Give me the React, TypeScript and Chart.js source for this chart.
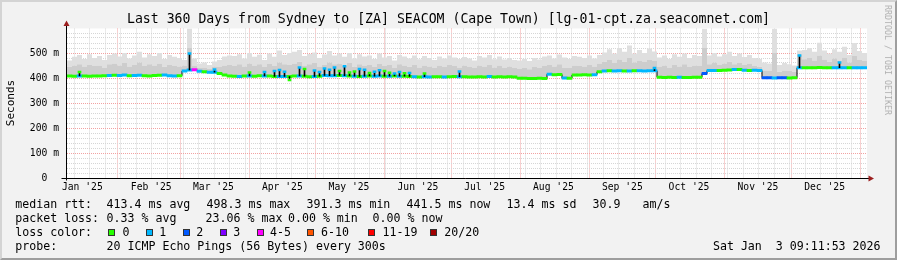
import React, { useEffect, useRef } from 'react';
import { Chart, registerables } from 'chart.js';

Chart.register(...registerables);

const FONT = "'DejaVu Sans Mono', 'Liberation Mono', monospace";

// time axis in days since 2025-01-01
const START_DAY = 8.1;
const END_DAY = 368.1;
const STEP_DAYS = 2.25;

// median round trip time (ms), one value per 2.25-day interval
const medianRtt = [
  408, 407, 408, 408, 407, 408, 408, 409, 410, 411,
  410, 412, 409, 410, 411, 409, 408, 410, 411, 412,
  409, 408, 409, 428, 432, 433, 427, 425, 423, 423,
  418, 412, 408, 407, 406, 408, 408, 407, 409, 408,
  408, 406, 406, 406, 406, 408, 408, 407, 405, 406,
  407, 410, 409, 409, 410, 409, 408, 407, 406, 407,
  408, 407, 408, 407, 407, 408, 407, 407, 406, 405,
  404, 405, 404, 405, 405, 404, 405, 406, 405, 405,
  404, 404, 405, 404, 406, 404, 405, 404, 405, 404,
  399, 399, 398, 398, 399, 398, 415, 413, 414, 400,
  399, 412, 412, 413, 412, 413, 425, 428, 429, 428,
  429, 428, 428, 429, 429, 428, 429, 429, 403, 402,
  403, 402, 403, 402, 402, 403, 403, 418, 430, 430,
  430, 431, 432, 434, 434, 431, 430, 431, 430, 401,
  401, 400, 401, 401, 400, 401, 441, 441, 441, 441,
  442, 441, 441, 441, 441, 441, 441, 441, 441, 441,
];

// loss colour index per interval (0 = no loss, 1 = 1/20, 2 = 2/20, 4 = 4-5/20)
const lossLevel = [
  0, 0, 1, 0, 0, 0, 0, 0, 1, 0,
  1, 1, 0, 1, 1, 0, 0, 0, 0, 1,
  1, 1, 0, 1, 1, 4, 1, 0, 1, 1,
  0, 0, 0, 0, 1, 0, 1, 0, 0, 1,
  0, 0, 1, 1, 0, 0, 1, 0, 0, 1,
  0, 1, 1, 1, 0, 1, 0, 1, 0, 1,
  0, 1, 1, 0, 1, 0, 1, 0, 0, 1,
  0, 1, 1, 0, 0, 1, 0, 0, 1, 0,
  0, 0, 0, 0, 1, 0, 0, 0, 0, 0,
  0, 0, 0, 0, 0, 0, 1, 0, 0, 1,
  0, 0, 0, 0, 0, 1, 0, 1, 0, 1,
  1, 0, 1, 0, 1, 1, 1, 1, 0, 0,
  0, 0, 1, 0, 0, 0, 0, 2, 1, 1,
  0, 0, 0, 1, 0, 1, 0, 1, 1, 2,
  2, 1, 2, 2, 0, 0, 1, 0, 0, 0,
  0, 0, 0, 1, 1, 1, 0, 1, 1, 1,
];

// short-lived median excursions inside an interval: interval index, peak rtt (ms), loss colour index
const spikeBin = [2, 24, 29, 36, 39, 41, 42, 43, 44, 46, 47, 49, 50, 51, 52, 53, 54, 55, 56, 57, 58, 59, 60, 61, 62, 63, 64, 65, 66, 67, 68, 71, 78, 117, 146, 154];
const spikeRtt = [424, 498, 434, 422, 424, 428, 432, 425, 392, 442, 436, 430, 424, 438, 433, 442, 428, 447, 422, 426, 436, 433, 420, 425, 431, 428, 421, 418, 424, 419, 420, 418, 426, 440, 490, 462];
const spikeLoss = [0, 1, 1, 0, 1, 1, 1, 1, 0, 1, 0, 1, 1, 1, 1, 1, 0, 1, 0, 0, 1, 1, 0, 1, 1, 0, 0, 1, 1, 0, 1, 0, 1, 1, 1, 1];

// inner (denser) smoke upper edge, ms
const smokeMid = [
  445, 450, 455, 446, 452, 448, 450, 440, 455, 458,
  450, 460, 446, 452, 462, 448, 455, 450, 458, 445,
  452, 448, 446, 450, 520, 450, 440, 442, 436, 446,
  444, 450, 452, 448, 455, 446, 458, 450, 455, 444,
  456, 448, 462, 455, 452, 458, 465, 450, 455, 460,
  446, 452, 462, 455, 458, 448, 460, 445, 455, 450,
  452, 444, 456, 448, 452, 440, 455, 450, 445, 452,
  442, 450, 446, 440, 450, 444, 452, 448, 442, 450,
  444, 440, 450, 446, 452, 442, 450, 440, 446, 440,
  436, 440, 435, 444, 440, 448, 452, 446, 455, 440,
  440, 450, 448, 446, 452, 446, 458, 465, 472, 460,
  474, 465, 480, 462, 470, 464, 472, 468, 446, 450,
  440, 452, 446, 455, 444, 450, 448, 520, 455, 462,
  452, 458, 465, 455, 460, 452, 458, 448, 445, 430,
  428, 500, 425, 430, 428, 425, 495, 475, 480, 470,
  490, 474, 465, 478, 470, 482, 462, 488, 472, 468,
];

// outer smoke upper edge (max ping), ms
const smokeTop = [
  470, 485, 492, 476, 495, 480, 488, 472, 492, 498,
  486, 500, 478, 490, 505, 482, 495, 488, 500, 476,
  492, 485, 480, 472, 600, 478, 458, 462, 452, 466,
  472, 486, 490, 488, 495, 478, 500, 485, 493, 472,
  498, 485, 510, 492, 500, 505, 512, 488, 496, 502,
  480, 494, 508, 490, 498, 485, 500, 478, 495, 486,
  490, 476, 498, 482, 488, 470, 492, 486, 478, 490,
  475, 488, 480, 472, 486, 478, 490, 482, 476, 484,
  478, 470, 488, 482, 492, 475, 486, 474, 480, 472,
  470, 476, 468, 480, 474, 486, 490, 478, 494, 482,
  476, 488, 485, 480, 490, 478, 492, 502, 515, 498,
  520, 505, 530, 498, 512, 500, 518, 506, 482, 490,
  476, 495, 485, 498, 480, 492, 488, 598, 490, 500,
  486, 495, 505, 488, 498, 484, 492, 480, 476, 462,
  458, 598, 452, 460, 455, 450, 510, 512, 520, 505,
  541, 510, 498, 515, 505, 525, 492, 540, 508, 500,
];

const monthStarts = [31, 59, 90, 120, 151, 181, 212, 243, 273, 304, 334, 365];
const monthLabelDays = [15, 46, 74, 105, 135, 166, 196, 227, 258, 288, 319, 349];
const monthLabels = ["Jan '25", "Feb '25", "Mar '25", "Apr '25", "May '25", "Jun '25", "Jul '25", "Aug '25", "Sep '25", "Oct '25", "Nov '25", "Dec '25"];
const yTicks = [0, 100, 200, 300, 400, 500];
const yTickLabels = ['0  ', '100 m', '200 m', '300 m', '400 m', '500 m'];

const lossColors = ['#26ff00', '#00b8ff', '#0059ff', '#7e00ff', '#ff00ff', '#ff5500', '#ff0000', '#a10000'];
const lossNames = ['0', '1', '2', '3', '4-5', '6-10', '11-19', '20/20'];

const rttStats = ['median rtt:', '413.4 ms avg', '498.3 ms max', '391.3 ms min', '441.5 ms now', '13.4 ms sd', '30.9', 'am/s'];
const lossStats = ['packet loss:', '0.33 % avg', '23.06 % max', '0.00 % min', '0.00 % now'];
const probeText = ['probe:', '20 ICMP Echo Pings (56 Bytes) every 300s'];
const stampText = 'Sat Jan  3 09:11:53 2026';
const titleText = 'Last 360 Days from Sydney to [ZA] SEACOM (Cape Town) [lg-01-cpt.za.seacomnet.com]';

// layout (pixel positions of legend items)
const rttX = [15.3, 106.6, 206.6, 306.6, 406.6, 506.6, 592.6, 642.6];
const lossX = [15.3, 106.6, 205.6, 288, 372.6];
const probeX = [15.3, 106.6];
const swatchX = [108, 145.5, 182.5, 219.5, 256.5, 306.5, 368, 430];
const swatchLabelX = [122.6, 159.3, 196.3, 233.3, 270, 321, 382.6, 444.3];

const GRID_RED = '#f2a2a2';
const GRID_GRAY = '#d6d6d6';

export default function App() {
  const ref = useRef<HTMLCanvasElement>(null);

  useEffect(() => {
    document.body.style.margin = '0';
    const canvas = ref.current;
    if (!canvas) return;

    const binStart = (i: number) => START_DAY + i * STEP_DAYS;
    const binMid = (i: number) => START_DAY + (i + 0.5) * STEP_DAYS;
    const stepPts = (arr: number[]) => {
      const pts = arr.map((v, i) => ({ x: binStart(i), y: v }));
      pts.push({ x: END_DAY, y: arr[arr.length - 1] });
      return pts;
    };
    const bandPts = medianRtt.map((v, i) => ({ x: binMid(i), y: [v - 5, v + 5] }));
    const bandColors = lossLevel.map((l) => lossColors[l]);
    const spikeLinePts = spikeBin.map((b, k) => ({ x: binMid(b), y: [medianRtt[b], spikeRtt[k]] }));
    const spikeTipPts = spikeBin.map((b, k) => ({ x: binMid(b), y: [spikeRtt[k] - 4, spikeRtt[k] + 4] }));
    const spikeTipColors = spikeLoss.map((l) => lossColors[l]);

    const weekDays: number[] = [];
    for (let d = 4.3; d < END_DAY; d += 7) if (d > START_DAY) weekDays.push(d);
    const minorY: number[] = [];
    for (let v = 20; v < 600; v += 20) if (v % 100 !== 0) minorY.push(v);

    const bgPlugin = {
      id: 'bg',
      beforeDraw(chart: any) {
        const { ctx, chartArea: a } = chart;
        ctx.save();
        ctx.fillStyle = '#f2f2f2';
        ctx.fillRect(0, 0, chart.width, chart.height);
        ctx.fillStyle = '#ffffff';
        ctx.fillRect(a.left, a.top, a.right - a.left, a.bottom - a.top);
        ctx.restore();
      },
    };
    const axisPlugin = {
      id: 'axes',
      afterDraw(chart: any) {
        const { ctx, chartArea: a } = chart;
        const x0 = Math.round(a.left) - 0.5;
        const y0 = Math.round(a.bottom) + 0.5;
        ctx.save();
        ctx.strokeStyle = '#000';
        ctx.lineWidth = 1;
        ctx.beginPath();
        ctx.moveTo(x0, y0 + 2);
        ctx.lineTo(x0, 24);
        ctx.moveTo(x0 - 5, y0);
        ctx.lineTo(a.right + 3, y0);
        ctx.stroke();
        ctx.fillStyle = '#9c1f1f';
        ctx.beginPath();
        ctx.moveTo(x0, 20.5);
        ctx.lineTo(x0 + 3, 26);
        ctx.lineTo(x0 - 3, 26);
        ctx.closePath();
        ctx.fill();
        ctx.beginPath();
        ctx.moveTo(a.right + 7, y0);
        ctx.lineTo(a.right + 1.5, y0 - 3);
        ctx.lineTo(a.right + 1.5, y0 + 3);
        ctx.closePath();
        ctx.fill();
        ctx.restore();
      },
    };

    const hiddenX = (ticks: number[], color: string) => ({
      type: 'linear',
      position: 'bottom',
      min: START_DAY,
      max: END_DAY,
      offset: false,
      afterBuildTicks: (s: any) => {
        s.ticks = ticks.filter((v) => v > START_DAY && v < END_DAY).map((v) => ({ value: v }));
      },
      afterFit: (s: any) => {
        s.height = 0;
        s.paddingLeft = 0;
        s.paddingRight = 0;
      },
      grid: { color, drawTicks: false, lineWidth: 1, offset: false },
      border: { display: false, dash: [1, 1] },
      ticks: { display: false },
    });

    const noLine = { borderColor: 'rgba(0,0,0,0)', borderWidth: 0, pointRadius: 0 };

    const chart = new Chart(canvas, {
      type: 'line',
      data: {
        datasets: [
          { label: 'base', data: stepPts(medianRtt), stepped: 'before', ...noLine, fill: false, order: 6 },
          { label: 'smoke inner', data: stepPts(smokeMid), stepped: 'before', ...noLine, fill: '-1', backgroundColor: '#cdcdcd', order: 6 },
          { label: 'smoke outer', data: stepPts(smokeTop), stepped: 'before', ...noLine, fill: '-1', backgroundColor: '#dfdfdf', order: 6 },
          { label: 'median rtt', data: stepPts(medianRtt), stepped: 'before', borderColor: '#000000', borderWidth: 1, pointRadius: 0, fill: false, order: 4 },
          { type: 'bar', label: 'loss', data: bandPts as any, backgroundColor: bandColors, borderWidth: 0, barPercentage: 1, categoryPercentage: 1, grouped: false, order: 3 },
          { type: 'bar', label: 'spike', data: spikeLinePts as any, backgroundColor: '#000000', borderWidth: 0, barThickness: 1, grouped: false, order: 2 },
          { type: 'bar', label: 'spike loss', data: spikeTipPts as any, backgroundColor: spikeTipColors, borderWidth: 0, barThickness: 3, grouped: false, order: 1 },
        ] as any,
      },
      options: {
        animation: false,
        responsive: false,
        maintainAspectRatio: false,
        events: [],
        layout: { padding: { left: 0, right: 30, top: 28.5, bottom: 0 } },
        plugins: { legend: { display: false }, tooltip: { enabled: false }, title: { display: false } },
        scales: {
          x: {
            type: 'linear',
            position: 'bottom',
            min: START_DAY,
            max: END_DAY,
            offset: false,
            afterBuildTicks: (s: any) => {
              s.ticks = monthLabelDays.map((v) => ({ value: v }));
            },
            afterFit: (s: any) => {
              s.height = 82;
              s.paddingLeft = 0;
              s.paddingRight = 0;
            },
            grid: { display: false, drawTicks: false, offset: false },
            border: { display: false },
            ticks: {
              autoSkip: false,
              maxRotation: 0,
              minRotation: 0,
              padding: 4,
              color: '#000',
              font: { family: FONT, size: 9.7 },
              callback: (_v: any, i: number) => monthLabels[i],
            },
          },
          xMonth: hiddenX(monthStarts, GRID_RED),
          xWeek: hiddenX(weekDays, GRID_GRAY),
          y: {
            position: 'left',
            min: 0,
            max: 598,
            afterBuildTicks: (s: any) => {
              s.ticks = yTicks.map((v) => ({ value: v }));
            },
            afterFit: (s: any) => {
              s.width = 67;
              s.paddingTop = 0;
              s.paddingBottom = 0;
            },
            grid: { color: GRID_RED, drawTicks: false, lineWidth: 1 },
            border: { display: false, dash: [1, 1] },
            ticks: {
              padding: 8,
              color: '#000',
              font: { family: FONT, size: 9.7 },
              callback: (_v: any, i: number) => yTickLabels[i],
            },
          },
          y2: {
            position: 'left',
            min: 0,
            max: 598,
            afterBuildTicks: (s: any) => {
              s.ticks = minorY.map((v) => ({ value: v }));
            },
            afterFit: (s: any) => {
              s.width = 0;
              s.paddingTop = 0;
              s.paddingBottom = 0;
            },
            grid: { color: GRID_GRAY, drawTicks: false, lineWidth: 1 },
            border: { display: false, dash: [1, 1] },
            ticks: { display: false },
          },
        } as any,
      },
      plugins: [bgPlugin, axisPlugin],
    } as any);

    return () => chart.destroy();
  }, []);

  const text: React.CSSProperties = {
    position: 'absolute',
    fontFamily: FONT,
    fontSize: '11.6px',
    lineHeight: '14px',
    whiteSpace: 'pre',
    color: '#000',
  };
  const rowTop = [197.3, 211.3, 225.3, 239];

  return (
    <div style={{ position: 'relative', width: 897, height: 260, overflow: 'hidden', background: '#f2f2f2' }}>
      <canvas ref={ref} width={897} height={260} style={{ position: 'absolute', left: 0, top: 0, width: 897, height: 260 }} />
      <div style={{ ...text, left: 0, top: 11, width: 897, textAlign: 'center', fontSize: '13.2px', lineHeight: '16px' }}>{titleText}</div>
      <div style={{ ...text, left: 10.5, top: 103, fontSize: '11px', transform: 'translate(-50%, -50%) rotate(-90deg)' }}>Seconds</div>
      <div style={{ ...text, left: 888, top: 60, fontSize: '8.3px', lineHeight: '10px', color: '#b0b0b0', transform: 'translate(-50%, -50%) rotate(90deg)' }}>RRDTOOL / TOBI OETIKER</div>
      {rttStats.map((s, i) => (
        <span key={'r' + i} style={{ ...text, left: rttX[i], top: rowTop[0] }}>{s}</span>
      ))}
      {lossStats.map((s, i) => (
        <span key={'l' + i} style={{ ...text, left: lossX[i], top: rowTop[1] }}>{s}</span>
      ))}
      <span style={{ ...text, left: 15.3, top: rowTop[2] }}>loss color:</span>
      {lossNames.map((s, i) => (
        <React.Fragment key={'c' + i}>
          <span style={{ position: 'absolute', left: swatchX[i], top: 228.5, width: 5, height: 5, border: '1px solid #333', background: lossColors[i] }} />
          <span style={{ ...text, left: swatchLabelX[i], top: rowTop[2] }}>{s}</span>
        </React.Fragment>
      ))}
      {probeText.map((s, i) => (
        <span key={'p' + i} style={{ ...text, left: probeX[i], top: rowTop[3] }}>{s}</span>
      ))}
      <span style={{ ...text, right: 16.5, top: rowTop[3] }}>{stampText}</span>
      <div style={{ position: 'absolute', left: 0, top: 0, width: 897, height: 260, boxSizing: 'border-box', borderTop: '2px solid #d4d4d4', borderLeft: '2px solid #d4d4d4', borderRight: '2px solid #9e9e9e', borderBottom: '2px solid #9e9e9e', pointerEvents: 'none' }} />
    </div>
  );
}
